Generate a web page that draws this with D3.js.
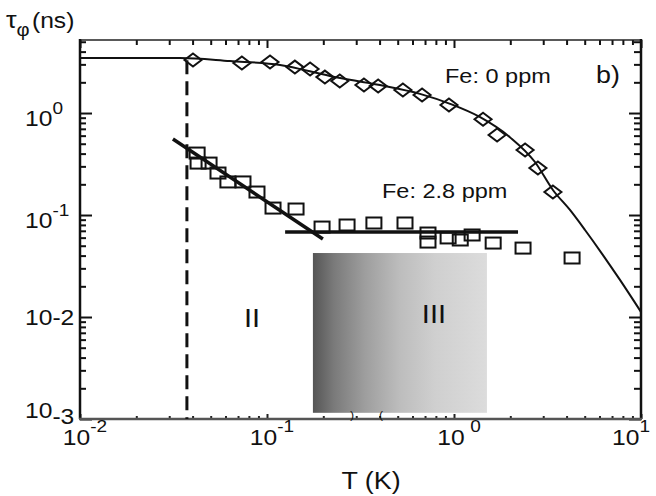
<!DOCTYPE html>
<html>
<head>
<meta charset="utf-8">
<script src="https://cdn.jsdelivr.net/npm/d3@7"></script>
<style>
  body { margin: 0; background: #fff; }
  text { font-family: "Liberation Sans", Arial, Helvetica, sans-serif; fill: #111; }
</style>
</head>
<body>
<svg id="chart" width="656" height="496"></svg>
<script>
// Phase coherence time tau_phi (ns) vs temperature T (K)

// Fe: 0 ppm — measured points
const fe0T   = [0.0402, 0.0734, 0.1038, 0.141, 0.170, 0.204, 0.245, 0.330, 0.393, 0.533, 0.675, 0.94, 1.43, 1.70, 2.40, 2.81, 3.38];
const fe0Tau = [3.31, 3.09, 3.16, 2.82, 2.70, 2.25, 2.06, 1.88, 1.84, 1.68, 1.50, 1.20, 0.87, 0.61, 0.434, 0.289, 0.168];

// Fe: 0 ppm — fitted curve
const fe0FitT   = [0.01, 0.0343, 0.0634, 0.1175, 0.217, 0.402, 0.658, 0.953, 1.38, 1.99, 2.71, 3.38, 4.17, 5.02, 6.26, 7.72, 10];
const fe0FitTau = [3.46, 3.46, 3.23, 2.96, 2.31, 1.88, 1.54, 1.23, 0.91, 0.58, 0.331, 0.176, 0.112, 0.0713, 0.0405, 0.0231, 0.0112];

// Fe: 2.8 ppm — measured points
const fe28T   = [0.0423, 0.0428, 0.049, 0.0547, 0.0618, 0.0744, 0.0884, 0.1077, 0.143, 0.197, 0.268, 0.373, 0.547, 0.726, 0.726, 0.93, 1.08, 1.25, 1.62, 2.34, 4.28];
const fe28Tau = [0.405, 0.323, 0.323, 0.258, 0.211, 0.211, 0.168, 0.117, 0.1145, 0.0762, 0.0798, 0.0835, 0.0835, 0.0666, 0.0543, 0.0596, 0.0569, 0.0637, 0.0531, 0.0474, 0.0379];

// Fe: 2.8 ppm — power-law and saturation guides
const fitLowT    = [0.0314, 0.199];
const fitLowTau  = [0.556, 0.0582];
const fitHighT   = [0.125, 2.2];
const fitHighTau = [0.0681, 0.0681];

// Crossover temperature marker
const crossoverT = 0.0373;
const crossoverTopTau = 3.3;

// Shaded regime III
const regionT   = [0.176, 1.5];
const regionTau = [0.00115, 0.0424];

// Axis ticks and labels
const xTickValues = [0.01, 0.1, 1, 10];
const xTickExps   = ["-2", "-1", "0", "1"];
const yTickValues = [0.001, 0.01, 0.1, 1];
const yTickExps   = ["-3", "-2", "-1", "0"];
const yTickForms  = ["sub", "inline", "sup", "sup"];

const svg = d3.select("#chart");
const L = 80, R = 641, T = 40, B = 419;

const x = d3.scaleLog().domain([0.01, 10]).range([L, R]);
const y = d3.scaleLog().domain([1e-3, 5.2]).range([B, T]);

// gradient for the shaded regime
const defs = svg.append("defs");
const grad = defs.append("linearGradient").attr("id", "regime").attr("x1", "0").attr("x2", "1").attr("y1", "0").attr("y2", "0");
[[0, "#555"], [0.12, "#7a7a7a"], [0.3, "#9e9e9e"], [0.5, "#bdbdbd"], [0.7, "#cfcfcf"], [1, "#dcdcdc"]]
  .forEach(([o, c]) => grad.append("stop").attr("offset", o).attr("stop-color", c));

svg.append("rect")
  .attr("x", x(regionT[0])).attr("y", y(regionTau[1]))
  .attr("width", x(regionT[1]) - x(regionT[0]))
  .attr("height", y(regionTau[0]) - y(regionTau[1]))
  .attr("fill", "url(#regime)");

// minor tick values 2..9 per decade
function minors(lo, hi) {
  const out = [];
  for (let e = Math.round(Math.log10(lo)); e < Math.round(Math.log10(hi)); e++)
    for (let k = 2; k <= 9; k++) out.push(k * Math.pow(10, e));
  return out;
}
const xMinor = minors(0.01, 10).filter(v => v < 10);
const yMinor = minors(0.001, 10).filter(v => v < 5.2);

function tickAxis(axisFn, scale, values, size, transform, color, width) {
  const g = svg.append("g").attr("transform", transform)
    .call(axisFn(scale).tickValues(values).tickSize(size).tickFormat(""));
  g.select(".domain").remove();
  g.selectAll(".tick line").attr("stroke", color).attr("stroke-width", width);
  return g;
}

// left axis
tickAxis(d3.axisLeft, y, yTickValues, -12, `translate(${L},0)`, "#111", 2);
tickAxis(d3.axisLeft, y, yMinor, -6, `translate(${L},0)`, "#111", 2);
// right axis
tickAxis(d3.axisRight, y, yTickValues, -12, `translate(${R},0)`, "#111", 2);
tickAxis(d3.axisRight, y, yMinor, -7, `translate(${R},0)`, "#111", 2);
// top axis
tickAxis(d3.axisTop, x, xTickValues, -8, `translate(0,${T})`, "#111", 2);
tickAxis(d3.axisTop, x, xMinor, -5, `translate(0,${T})`, "#111", 2);
// bottom axis
tickAxis(d3.axisBottom, x, xTickValues, -5, `translate(0,${B})`, "#222", 2);
tickAxis(d3.axisBottom, x, xMinor, -3, `translate(0,${B})`, "#222", 2);

// frame
svg.append("line").attr("x1", L).attr("x2", R).attr("y1", T).attr("y2", T).attr("stroke", "#222").attr("stroke-width", 1.5);
svg.append("line").attr("x1", L).attr("x2", L).attr("y1", T - 1).attr("y2", B).attr("stroke", "#111").attr("stroke-width", 2.5);
svg.append("line").attr("x1", R).attr("x2", R).attr("y1", T - 1).attr("y2", B).attr("stroke", "#111").attr("stroke-width", 2.5);
svg.append("line").attr("x1", L - 1).attr("x2", R + 1).attr("y1", B).attr("y2", B).attr("stroke", "#555").attr("stroke-width", 2.5);

// crossover dashed line
svg.append("line")
  .attr("x1", x(crossoverT)).attr("x2", x(crossoverT))
  .attr("y1", y(crossoverTopTau)).attr("y2", B)
  .attr("stroke", "#111").attr("stroke-width", 3).attr("stroke-dasharray", "14,7");

// Fe 0 ppm fitted curve
const line = d3.line().x(d => x(d[0])).y(d => y(d[1])).curve(d3.curveMonotoneX);
svg.append("path")
  .datum(fe0FitT.map((t, i) => [t, fe0FitTau[i]]))
  .attr("d", line).attr("fill", "none").attr("stroke", "#111").attr("stroke-width", 2);

// Fe 2.8 ppm guide lines
const straight = d3.line().x(d => x(d[0])).y(d => y(d[1]));
[[fitLowT, fitLowTau], [fitHighT, fitHighTau]].forEach(([ts, taus]) => {
  svg.append("path")
    .datum(ts.map((t, i) => [t, taus[i]]))
    .attr("d", straight).attr("fill", "none").attr("stroke", "#111").attr("stroke-width", 3.5);
});

// diamonds
svg.append("g").selectAll("path")
  .data(fe0T.map((t, i) => [t, fe0Tau[i]]))
  .join("path")
  .attr("transform", d => `translate(${x(d[0])},${y(d[1])})`)
  .attr("d", "M0,-6.5L8.5,0L0,6.5L-8.5,0Z")
  .attr("fill", "none").attr("stroke", "#111").attr("stroke-width", 2);

// squares
svg.append("g").selectAll("rect")
  .data(fe28T.map((t, i) => [t, fe28Tau[i]]))
  .join("rect")
  .attr("x", d => x(d[0]) - 7.5).attr("y", d => y(d[1]) - 5.5)
  .attr("width", 15).attr("height", 11)
  .attr("fill", "none").attr("stroke", "#111").attr("stroke-width", 2);

// text helper: horizontally widened glyphs
function label(px, py, anchor, size) {
  return svg.append("g").attr("transform", `translate(${px},${py}) scale(1.12,1)`)
    .append("text").attr("text-anchor", anchor).attr("font-size", size);
}

// y tick labels
yTickValues.forEach((v, i) => {
  const form = yTickForms[i];
  const base = form === "sup" ? y(v) + 13 : form === "inline" ? y(v) + 8 : y(v) - 1;
  const t = label(25, base, "start", 22);
  t.append("tspan").text("10");
  if (form === "sup") t.append("tspan").attr("font-size", 17).attr("dy", -12).text(yTickExps[i]);
  else if (form === "inline") t.append("tspan").text(yTickExps[i]);
  else t.append("tspan").attr("dy", 6).text(yTickExps[i]);
});

// x tick labels
xTickValues.forEach((v, i) => {
  let cx = x(v) + 5;
  const g = svg.append("g").attr("transform", `translate(${cx},445) scale(1.12,1)`);
  const t = g.append("text").attr("text-anchor", "middle").attr("font-size", 22);
  t.append("tspan").text("10");
  t.append("tspan").attr("font-size", 17).attr("dy", -13).attr("dx", v === 1 ? 5 : 0).text(xTickExps[i]);
  const w = t.node().getComputedTextLength() * 1.12;
  if (cx + w / 2 > 650) {
    cx = 650 - w / 2;
    g.attr("transform", `translate(${cx},445) scale(1.12,1)`);
  }
});

// axis titles
label(371, 489, "middle", 24).text("T (K)");
const yt = label(6, 28, "start", 24);
yt.append("tspan").text("τ");
yt.append("tspan").attr("font-size", 18).attr("dy", 8).text("φ");
yt.append("tspan").attr("font-size", 22).attr("dy", -8).attr("dx", 2).text("(ns)");

// annotations
label(445, 83, "start", 21).text("Fe: 0 ppm");
label(596, 83, "start", 24).text("b)");
label(382, 198, "start", 21).text("Fe: 2.8 ppm");
label(252, 327, "middle", 26).text("II");
label(434, 323, "middle", 26).text("III");

// small marks just below the shaded block
label(352, 419, "middle", 11).text(")");
label(381, 419, "middle", 11).text("(");
</script>
</body>
</html>
